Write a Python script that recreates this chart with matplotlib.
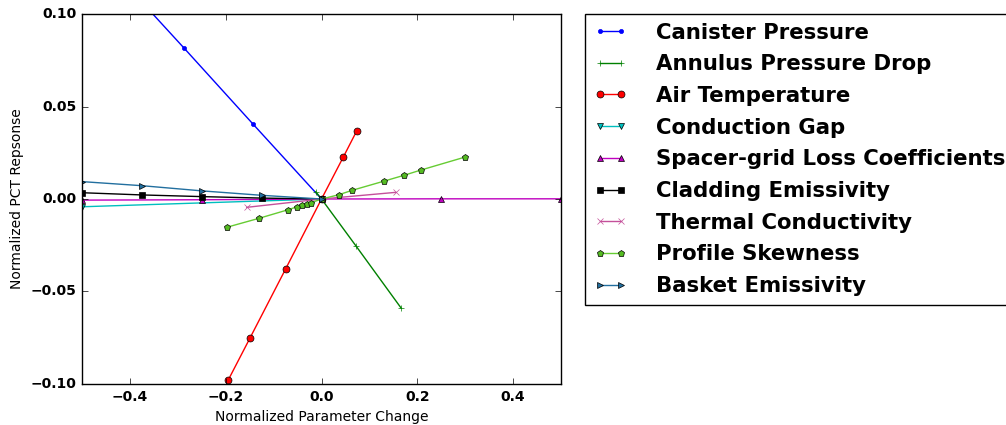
import numpy as np
import matplotlib
matplotlib.use("Agg")
import matplotlib.pyplot as plt

# sensitivity data (normalized parameter change vs normalized PCT response)
canister_x = [-0.43, -0.287, -0.143, 0.0]
canister_y = [0.122, 0.0816, 0.0405, 0.0]

annulus_x = [-0.012, 0.0, 0.072, 0.166]
annulus_y = [0.0039, 0.0, -0.0254, -0.0589]

air_x = [-0.195, -0.149, -0.0747, 0.0, 0.0455, 0.0735]
air_y = [-0.098, -0.075, -0.0377, 0.0, 0.0227, 0.0368]

gap_x = [-0.5, 0.0]
gap_y = [-0.0042, 0.0]

spacer_x = [-0.5, -0.25, 0.0, 0.25, 0.5]
spacer_y = [-0.0006, -0.0004, 0.0, 0.0001, 0.0001]

clad_x = [-0.5, -0.375, -0.25, -0.125, 0.0]
clad_y = [0.0034, 0.0022, 0.0013, 0.0005, 0.0]

thermal_x = [-0.156, 0.0, 0.155]
thermal_y = [-0.0045, 0.0, 0.0036]

skew_x = [-0.198, -0.130, -0.071, -0.052, -0.041, -0.031, -0.022, 0.0,
          0.036, 0.064, 0.131, 0.172, 0.208, 0.30]
skew_y = [-0.0153, -0.0104, -0.0059, -0.0043, -0.0034, -0.0027, -0.002, 0.0,
          0.0023, 0.0047, 0.0097, 0.0128, 0.0157, 0.0227]

basket_x = [-0.5, -0.375, -0.25, -0.125, 0.0]
basket_y = [0.0094, 0.0072, 0.0044, 0.002, 0.0]


def main():
    plt.style.use('classic')
    plt.rcParams['lines.markersize'] = 5
    fig = plt.figure(figsize=(10.06, 4.25), dpi=100, facecolor='white')
    ax = fig.add_axes([0.0815, 0.0965, 0.4762, 0.8705])

    ax.plot(canister_x, canister_y, '.-', color='b', mec='b', ms=6, label='Canister Pressure')
    ax.plot(annulus_x, annulus_y, '+-', color='g', mec='g', label='Annulus Pressure Drop')
    ax.plot(air_x, air_y, 'o-', color='r', mec='k', mew=0.5, label='Air Temperature')
    ax.plot(gap_x, gap_y, 'v-', color='c', mec='k', mew=0.5, label='Conduction Gap')
    ax.plot(spacer_x, spacer_y, '^-', color='m', mec='k', mew=0.5,
            label='Spacer-grid Loss Coefficients')
    ax.plot(clad_x, clad_y, 's-', color='k', mec='k', label='Cladding Emissivity')
    ax.plot(thermal_x, thermal_y, 'x-', color='#c4509a', mec='#c4509a',
            label='Thermal Conductivity')
    ax.plot(skew_x, skew_y, 'p-', color='#66cc33', mfc='#55bb22', mec='k', mew=0.5,
            label='Profile Skewness')
    ax.plot(basket_x, basket_y, '>-', color='#226f9f', mec='k', mew=0.5,
            label='Basket Emissivity')

    ax.set_xlim(-0.5, 0.5)
    ax.set_ylim(-0.1, 0.1)
    ax.set_xticks([-0.4, -0.2, 0.0, 0.2, 0.4])
    ax.set_yticks([-0.10, -0.05, 0.0, 0.05, 0.10])
    for lab in ax.get_xticklabels() + ax.get_yticklabels():
        lab.set_fontweight('bold')
        lab.set_fontsize(10)
    ax.set_xlabel('Normalized Parameter Change', fontsize=10)
    ax.set_ylabel('Normalized PCT Repsonse', fontsize=10)

    ax.legend(loc='upper left', bbox_to_anchor=(1.05, 1), borderaxespad=0,
              prop={'weight': 'bold', 'size': 15.3}, numpoints=2,
              handlelength=1.6, handletextpad=1.35, labelspacing=0.55)

    fig.savefig('out.png', dpi=100, facecolor='white')


if __name__ == '__main__':
    main()
